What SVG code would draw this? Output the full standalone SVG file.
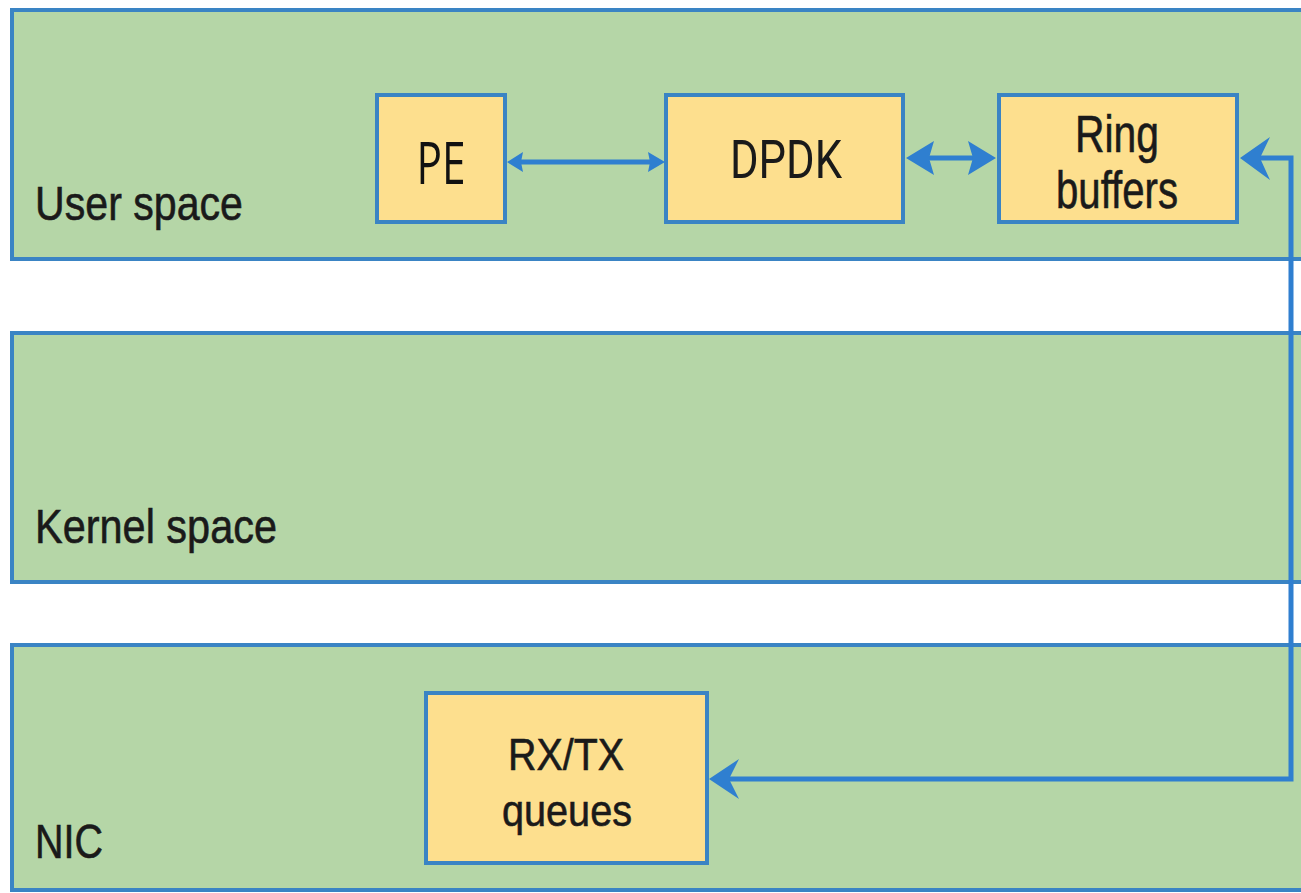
<svg xmlns="http://www.w3.org/2000/svg" width="1301" height="893" viewBox="0 0 1301 893">
  <style>
    .layer { fill: #b5d6a7; stroke: #3a84c4; stroke-width: 4; }
    .box { fill: #fddf8e; stroke: #3a84c4; stroke-width: 4; }
    .lbl { font-family: "Liberation Sans", Arial, sans-serif; fill: #1a1a1a; stroke: #1a1a1a; stroke-width: 0.6; }
    .conn { fill: none; stroke: #2f7fd0; stroke-width: 5; }
    .head { fill: #2f7fd0; }
  </style>
  <rect width="1301" height="893" fill="#ffffff"/>

  <!-- Layers -->
  <g id="user-space">
    <rect class="layer" x="12" y="10" width="1310" height="249"/>
    <text class="lbl" x="35" y="220" font-size="49" textLength="208" lengthAdjust="spacingAndGlyphs">User space</text>
  </g>
  <g id="kernel-space">
    <rect class="layer" x="12" y="333" width="1310" height="249"/>
    <text class="lbl" x="35" y="543" font-size="49" textLength="242" lengthAdjust="spacingAndGlyphs">Kernel space</text>
  </g>
  <g id="nic">
    <rect class="layer" x="12" y="645" width="1310" height="245"/>
    <text class="lbl" x="35" y="858" font-size="49" textLength="68" lengthAdjust="spacingAndGlyphs">NIC</text>
  </g>

  <!-- Component boxes -->
  <g id="pe">
    <rect class="box" x="377" y="95" width="128" height="127"/>
    <text x="441" y="184" text-anchor="middle" font-family="'Open Sans', 'Noto Sans', sans-serif" font-size="58" fill="#111" textLength="49" lengthAdjust="spacingAndGlyphs">PE</text>
  </g>
  <g id="dpdk">
    <rect class="box" x="666" y="95" width="237" height="127"/>
    <text x="786" y="178" text-anchor="middle" font-family="Roboto, 'Liberation Sans', sans-serif" font-size="53" fill="#1a1a1a" textLength="112" lengthAdjust="spacingAndGlyphs">DPDK</text>
  </g>
  <g id="ring-buffers">
    <rect class="box" x="999" y="95" width="238" height="127"/>
    <text class="lbl" x="1117" y="152" text-anchor="middle" font-size="51" textLength="84" lengthAdjust="spacingAndGlyphs">Ring</text>
    <text class="lbl" x="1117" y="208" text-anchor="middle" font-size="51" textLength="122" lengthAdjust="spacingAndGlyphs">buffers</text>
  </g>
  <g id="rxtx-queues">
    <rect class="box" x="426" y="693" width="281" height="170"/>
    <text class="lbl" x="566" y="770" text-anchor="middle" font-size="45" textLength="116" lengthAdjust="spacingAndGlyphs">RX/TX</text>
    <text class="lbl" x="567" y="826" text-anchor="middle" font-size="45" textLength="130" lengthAdjust="spacingAndGlyphs">queues</text>
  </g>

  <!-- Connectors -->
  <g id="connectors">
    <!-- PE <-> DPDK -->
    <line class="conn" x1="515" y1="162" x2="655" y2="162" stroke-width="4"/>
    <path class="head" d="M507,162 L523,152 L521,162 L523,172 Z"/>
    <path class="head" d="M665,162 L648,152 L650,162 L648,172 Z"/>
    <!-- DPDK <-> Ring buffers -->
    <line class="conn" x1="925" y1="158" x2="978" y2="158"/>
    <path class="head" d="M906,158 L934,141 L929,158 L934,175 Z"/>
    <path class="head" d="M996,158 L968,141 L973,158 L968,175 Z"/>
    <!-- RX/TX queues <-> Ring buffers loop on the right -->
    <polyline class="conn" points="725,779 1291,779 1291,158 1258,158" stroke-linejoin="miter"/>
    <path class="head" d="M1240,158 L1270,137 L1260,158 L1270,180 Z"/>
    <path class="head" d="M709,779 L739,759 L729,779 L739,799 Z"/>
  </g>
</svg>
